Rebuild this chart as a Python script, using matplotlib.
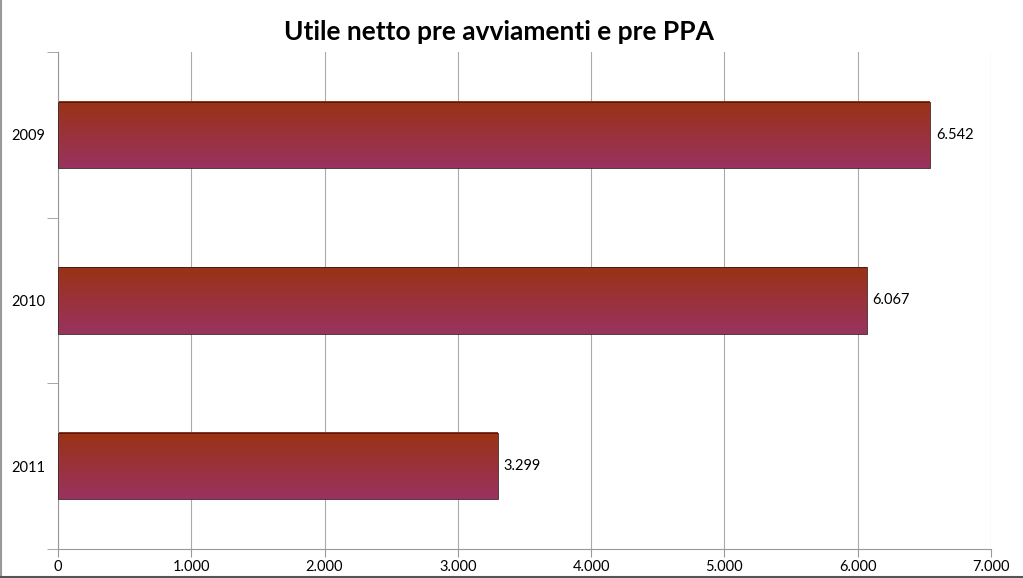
import matplotlib.pyplot as plt
import matplotlib
import numpy as np
from matplotlib.colors import LinearSegmentedColormap
from matplotlib.ticker import FuncFormatter

matplotlib.rcParams['font.family'] = ['Lato', 'DejaVu Sans']

anni = ['2009', '2010', '2011']
valori = [6542, 6067, 3299]

fig = plt.figure(figsize=(10.23, 5.78), dpi=100)
ax = fig.add_axes([58/1023, 29/578, 933/1023, 497/578])

# sfumatura delle barre (alto arancio-bruno, basso viola)
cmap = LinearSegmentedColormap.from_list('grad', ['#993314', '#9a3260'])
grad = np.linspace(0, 1, 100).reshape(-1, 1)

pos = np.arange(len(anni))
h = 0.4
bars = ax.barh(pos, valori, height=h, color='none', edgecolor='#3a1a1a', linewidth=0.6, zorder=3)
for b, v, p in zip(bars, valori, pos):
    ax.imshow(grad, cmap=cmap, aspect='auto', origin='upper',
              extent=[0, v, p + h/2, p - h/2], zorder=2)
    ax.text(v + 45, p, f'{v:,}'.replace(',', '.'), va='center', ha='left', fontsize=10.5)

ax.set_xlim(0, 7000)
ax.set_ylim(len(anni) - 0.5, -0.5)
ax.set_yticks(pos)
ax.set_yticklabels(anni, fontsize=10.5)
ax.set_yticks([-0.5, 0.5, 1.5, 2.5], minor=True)
ax.tick_params(axis='y', which='major', length=0, pad=9)
ax.tick_params(axis='y', which='minor', length=8, color='#999999')
ax.set_xticks(range(0, 7001, 1000))
ax.xaxis.set_major_formatter(FuncFormatter(lambda x, _: f'{int(x):,}'.replace(',', '.')))
ax.tick_params(axis='x', length=6, color='#999999', labelsize=10.5, pad=2)
ax.grid(axis='x', color='#aaaaaa', linewidth=0.8, zorder=0)
ax.set_axisbelow(True)
for s in ['top', 'right']:
    ax.spines[s].set_visible(False)
ax.spines['left'].set_color('#999999')
ax.spines['bottom'].set_color('#999999')

fig.text(0.488, 0.945, 'Utile netto pre avviamenti e pre PPA', fontsize=19,
         fontweight='bold', ha='center', va='center')

# bordo del grafico
fig.add_artist(plt.Line2D([0.001, 0.001], [0, 1], color='#999999', linewidth=1.5, transform=fig.transFigure))
fig.add_artist(plt.Line2D([0, 1], [0.002, 0.002], color='#555555', linewidth=1.5, transform=fig.transFigure))

fig.savefig('out.png', dpi=100)
